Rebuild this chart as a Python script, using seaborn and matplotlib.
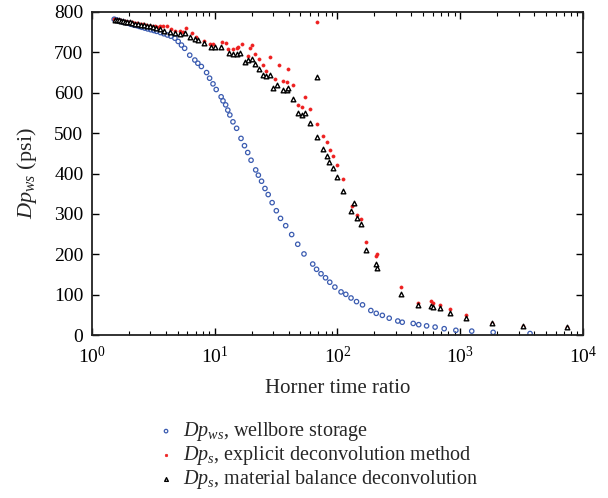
import matplotlib
matplotlib.use("Agg")
import matplotlib.pyplot as plt
import seaborn as sns
from matplotlib.ticker import LogLocator, MultipleLocator, NullFormatter

# wellbore storage (blue open circles)
ws_x = [1.52, 1.55, 1.58, 1.62, 1.66, 1.70, 1.75, 1.80, 1.86, 1.92, 1.99, 2.06, 2.14,
        2.23, 2.33, 2.44, 2.56, 2.70, 2.85, 3.02, 3.20, 3.37, 3.62, 3.86, 4.12, 4.40,
        4.75, 5.05, 5.37, 5.70, 6.27, 6.90, 7.30, 7.80, 8.60, 9.10, 9.70, 10.3, 11.3,
        11.7, 12.3, 12.8, 13.3, 14.1, 15.1, 16.4, 17.5, 18.6, 19.8, 21.6, 22.7, 24.1,
        25.7, 27.3, 29.4, 31.8, 34.4, 37.9, 42.4, 47.5, 53.4, 62.9, 67.6, 73.5, 80.0,
        86.6, 95.3, 107, 117, 129, 143, 160, 187, 207, 232, 264, 310, 337, 414, 459,
        532, 624, 740, 921, 1240, 1853, 3700]
ws_y = [782, 781, 780, 779, 778, 777, 776, 775, 774, 773, 772, 770, 769,
        767, 766, 764, 762, 760, 758, 756, 754, 752, 749, 746, 743, 740,
        735, 727, 718, 710, 693, 681, 673, 665, 650, 636, 622, 608, 590,
        580, 570, 557, 545, 528, 512, 487, 469, 452, 433, 409, 396, 381,
        363, 348, 328, 308, 289, 271, 249, 225, 201, 176, 163, 152, 142,
        131, 119, 107, 101, 92, 83, 75, 61, 54, 49, 42, 35, 32, 29, 26,
        23, 20, 16, 12, 10, 7, 4]

# explicit deconvolution method (red dots)
ed_x = [1.53, 1.58, 1.64, 1.70, 1.77, 1.85, 1.93, 2.02, 2.12, 2.22, 2.34, 2.47, 2.60,
        2.75, 2.90, 3.06, 3.24, 3.42, 3.62, 3.80, 4.06, 4.40, 4.80, 5.20, 5.55, 5.90,
        6.50, 7.10, 8.20, 9.10, 9.70, 11.4, 12.3, 12.9, 14.1, 15.1, 15.5, 16.6, 18.8,
        19.4, 20.2, 21.3, 22.9, 24.9, 26.4, 28.0, 31.0, 33.6, 35.8, 38.6, 39.8, 43.1,
        48.0, 51.7, 54.8, 59.5, 67.6, 68.5, 75.6, 81.9, 87.3, 91.5, 98.5, 110, 132,
        136, 145, 157, 170, 207, 209, 330, 455, 575, 600, 685, 825, 1110, 1800, 3250,
        7440]
ed_y = [782, 781, 780, 779, 778, 777, 776, 775, 774, 773, 772, 770, 769,
        767, 766, 765, 764, 763, 764, 765, 764, 759, 754, 753, 751, 760,
        747, 739, 729, 720, 720, 725, 722, 708, 708, 710, 714, 720, 691,
        710, 718, 695, 683, 669, 654, 688, 634, 669, 630, 627, 660, 619,
        570, 565, 590, 561, 523, 776, 493, 477, 458, 444, 421, 387, 320,
        324, 298, 287, 230, 196, 201, 120, 80, 85, 80, 74, 64, 49, 30, 23,
        21]

# material balance deconvolution (black open triangles)
mb_x = [1.55, 1.60, 1.66, 1.72, 1.79, 1.87, 1.95, 2.04, 2.14, 2.25, 2.37, 2.50, 2.64,
        2.80, 2.96, 3.14, 3.35, 3.60, 3.90, 4.30, 4.75, 5.20, 5.70, 6.30, 6.90, 7.30,
        8.20, 9.40, 10.0, 11.3, 13.1, 14.0, 15.3, 16.0, 17.6, 18.8, 20.0, 21.3, 22.9,
        24.9, 26.4, 28.0, 29.9, 32.3, 35.8, 38.6, 39.8, 43.1, 48.0, 51.7, 54.5, 59.5,
        67.6, 68.5, 75.6, 81.9, 85.7, 91.5, 98.5, 110, 130, 136, 145, 157, 170, 207,
        209, 330, 455, 575, 595, 685, 825, 1110, 1800, 3250, 7440]
mb_y = [781, 780, 779, 778, 777, 776, 775, 774, 773, 771, 770, 768, 767,
        765, 764, 762, 760, 757, 753, 750, 747, 745, 747, 737, 733, 731,
        722, 714, 714, 714, 698, 695, 695, 698, 677, 681, 683, 670, 659,
        644, 642, 644, 613, 619, 607, 608, 611, 584, 549, 545, 549, 524,
        491, 638, 460, 444, 428, 413, 391, 357, 307, 328, 289, 275, 210, 175,
        167, 102, 75, 72, 70, 66, 55, 43, 29, 22, 20]

sns.set_style("ticks")
plt.rcParams["font.family"] = ["Liberation Serif", "DejaVu Serif"]
plt.rcParams["mathtext.fontset"] = "custom"
plt.rcParams["mathtext.rm"] = "Liberation Serif"
plt.rcParams["mathtext.it"] = "Liberation Serif:italic"

fig = plt.figure(figsize=(6.08, 4.98), dpi=100)
ax = fig.add_axes([0.151, 0.327, 0.808, 0.649])

sns.scatterplot(x=ws_x, y=ws_y, ax=ax, marker="o", s=10, facecolors="none",
                edgecolor="#3a5bb0", linewidth=0.9,
                label=r"$Dp_{ws}$, wellbore storage")
sns.scatterplot(x=ed_x, y=ed_y, ax=ax, marker="o", s=5, color="#ee2020",
                edgecolor="#ee2020", linewidth=0.5,
                label=r"$Dp_{s}$, explicit deconvolution method")
sns.scatterplot(x=mb_x, y=mb_y, ax=ax, marker="^", s=11, facecolors="white",
                edgecolor="black", linewidth=1.0,
                label=r"$Dp_{s}$, material balance deconvolution")

ax.set_xscale("log")
ax.set_xlim(1, 1e4)
ax.set_ylim(0, 800)
ax.yaxis.set_major_locator(MultipleLocator(100))
ax.xaxis.set_major_locator(LogLocator(base=10, numticks=10))
ax.xaxis.set_minor_locator(LogLocator(base=10, subs=range(2, 10), numticks=20))
ax.xaxis.set_minor_formatter(NullFormatter())
ax.tick_params(axis="both", which="both", direction="in", top=True, right=True,
               labelsize=14, colors="black")
ax.tick_params(axis="both", which="major", length=5, width=1.0)
ax.tick_params(axis="x", which="minor", length=3, width=0.8)
ax.tick_params(axis="x", which="major", pad=8)
ax.tick_params(axis="y", which="major", pad=6)
for sp in ax.spines.values():
    sp.set_linewidth(1.3)
    sp.set_color("#222222")

ax.set_xlabel("Horner time ratio", fontsize=15, labelpad=8)
ax.set_ylabel(r"$Dp_{ws}$ (psi)", fontsize=16, labelpad=11)

handles, labels = ax.get_legend_handles_labels()
ax.get_legend().remove()
fig.legend(handles, labels, loc="upper left", bbox_to_anchor=(0.235, 0.172),
           frameon=False, fontsize=14.5, handletextpad=0.1, markerscale=0.8,
           handlelength=1.5, borderaxespad=0, labelspacing=0.05)

fig.savefig("out.png", dpi=100)
